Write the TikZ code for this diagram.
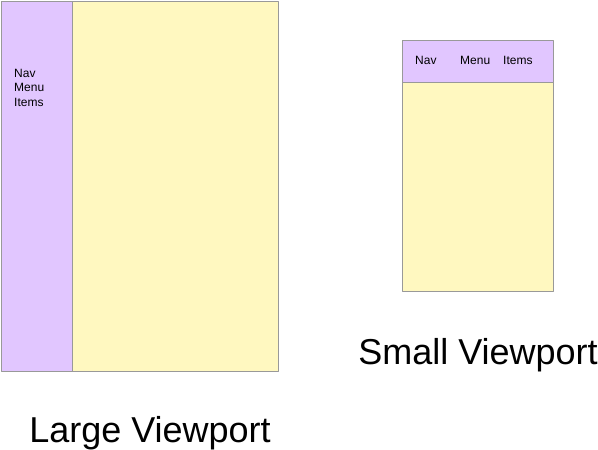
\documentclass[tikz,border=0pt]{standalone}
\usepackage{fontspec}
\setmainfont{Liberation Sans}
\definecolor{navpurple}{HTML}{E1C6FF}
\definecolor{pageyellow}{HTML}{FFF8C0}
\definecolor{edgegray}{HTML}{999999}
\begin{document}
\begin{tikzpicture}[
				x=1pt,
				y=-1pt,
				line join=round,
				pane/.style={draw=edgegray, line width=1pt},
				navtext/.style={font=\fontsize{12}{14.5}\selectfont, inner sep=0pt, anchor=base west},
				caption/.style={font=\fontsize{36}{40}\selectfont, inner sep=0pt, anchor=base}
			]
			\useasboundingbox (0,0) rectangle (598,450);

			% Large viewport
			\draw[pane, fill=pageyellow] (72,1) rectangle (278,371);
			\draw[pane, fill=navpurple] (1,1) rectangle (72,371);
			\node[navtext, align=left] (largenav) at (14,106) {Nav\\Menu\\Items};
			\node[caption] (largelabel) at (150,442) {Large Viewport};

			% Small viewport
			\draw[pane, fill=pageyellow] (402,82) rectangle (553,291);
			\draw[pane, fill=navpurple] (402,40) rectangle (553,82);
			\node[navtext] (smallnav) at (415,64) {Nav};
			\node[navtext] (smallmenu) at (460,64) {Menu};
			\node[navtext] (smallitems) at (503,64) {Items};
			\node[caption] (smalllabel) at (478,364) {Small Viewport};

		\end{tikzpicture}
\end{document}
